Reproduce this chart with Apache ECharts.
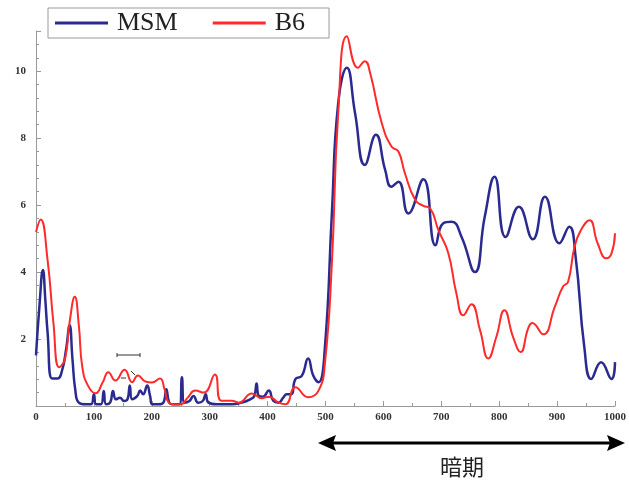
<!DOCTYPE html>
<html>
<head>
<meta charset="utf-8">
<style>html,body{margin:0;padding:0;background:#fff;}#c{width:629px;height:483px;}</style>
<script src="https://cdn.jsdelivr.net/npm/echarts@6/dist/echarts.min.js"></script>
</head>
<body>
<div id="c"></div>
<script>
const seriesNames = ['MSM', 'B6'];
const xTicks = [0, 100, 200, 300, 400, 500, 600, 700, 800, 900, 1000];
const yTicks = [2, 4, 6, 8, 10];
const msm = [[0,1.51],[6,3.0],[12,4.06],[16,3.2],[20,2.2],[28,0.82],[37,0.82],[45,1.06],[52,1.7],[58,2.41],[63,1.4],[68,0.46],[74,0.1],[85,0.05],[95,0.05],[100,0.35],[104,0.05],[112,0.05],[117,0.45],[121,0.05],[128,0.1],[133,0.45],[138,0.2],[145,0.25],[152,0.15],[158,0.2],[162,0.61],[166,0.2],[175,0.3],[180,0.46],[185,0.35],[192,0.61],[197,0.3],[201,0.05],[212,0.05],[220,0.1],[225,0.5],[230,0.1],[235,0.05],[248,0.05],[252,0.86],[256,0.1],[265,0.15],[272,0.3],[280,0.1],[288,0.15],[293,0.35],[298,0.1],[312,0.05],[338,0.05],[355,0.1],[370,0.2],[377,0.3],[381,0.67],[385,0.3],[392,0.28],[402,0.46],[410,0.15],[419,0.1],[427,0.25],[433,0.35],[441,0.35],[448,0.8],[459,0.9],[470,1.42],[479,0.9],[488,0.71],[499,1.76],[511,5.75],[522,9.05],[537,10.1],[551,8.75],[568,7.2],[587,8.1],[603,7.05],[614,6.55],[626,6.7],[643,5.75],[669,6.77],[690,4.8],[703,5.45],[718,5.5],[735,5.05],[758,4.0],[775,5.65],[792,6.85],[811,5.05],[834,5.95],[858,4.98],[879,6.25],[904,4.86],[921,5.35],[932,4.45],[947,1.76],[959,0.81],[976,1.31],[994,0.81],[1000,1.31]];
const b6 = [[0,5.2],[8,5.57],[20,4.36],[30,2.5],[40,1.16],[50,1.4],[58,2.5],[67,3.26],[74,2.4],[80,1.16],[90,0.6],[103,0.38],[115,0.7],[125,1.01],[137,0.76],[153,1.08],[166,0.71],[176,0.91],[189,0.73],[200,0.7],[214,0.82],[222,0.5],[229,0.11],[240,0.05],[250,0.05],[262,0.25],[275,0.46],[290,0.4],[309,0.94],[320,0.16],[338,0.16],[350,0.1],[373,0.37],[390,0.23],[402,0.28],[419,0.1],[431,0.05],[448,0.56],[470,0.26],[488,0.46],[499,1.27],[511,4.26],[522,8.76],[537,11.04],[556,10.1],[568,10.3],[577,9.95],[597,8.46],[614,7.75],[626,7.6],[637,6.96],[655,6.15],[669,5.98],[681,5.9],[695,5.25],[712,4.57],[726,3.37],[738,2.71],[752,3.04],[767,2.26],[781,1.42],[795,2.06],[809,2.86],[824,2.06],[837,1.61],[850,2.32],[857,2.48],[876,2.14],[896,2.96],[910,3.56],[919,3.71],[930,4.75],[941,5.25],[956,5.55],[970,4.86],[985,4.41],[994,4.56],[1000,5.16]];
const colors = ['#2b2a8f', '#ff2a2a'];
const periodLabel = '暗期';

const chart = echarts.init(document.getElementById('c'));
const labelFont = {fontFamily: 'Liberation Serif', fontWeight: 'bold', fontSize: 11, color: '#333'};
chart.setOption({
  animation: false,
  backgroundColor: '#fff',
  grid: {left: 36, right: 12, top: 31, bottom: 77},
  legend: {
    left: 48, top: 8,
    data: seriesNames,
    icon: 'rect', itemWidth: 53, itemHeight: 3, itemGap: 35,
    borderColor: '#999', borderWidth: 1,
    padding: [2, 24, 2, 7],
    textStyle: {fontFamily: 'Liberation Serif', fontSize: 26, color: '#222', padding: [0, 0, 0, 4]}
  },
  xAxis: {
    type: 'value', min: 0, max: 1000, interval: 100,
    axisLine: {lineStyle: {color: '#999', width: 1}},
    axisTick: {inside: true, length: 5, lineStyle: {color: '#999'}},
    minorTick: {show: true, splitNumber: 2, length: 3, lineStyle: {color: '#999'}},
    splitLine: {show: false},
    axisLabel: Object.assign({margin: 6, showMaxLabel: true,
      formatter: v => xTicks.indexOf(v) >= 0 ? String(v) : ''}, labelFont)
  },
  yAxis: {
    type: 'value', min: 0, max: 11.2, interval: 2,
    axisLine: {show: true, lineStyle: {color: '#999', width: 1}},
    axisTick: {show: true, inside: true, length: 5, lineStyle: {color: '#999'}},
    minorTick: {show: true, splitNumber: 5, length: 3, lineStyle: {color: '#999'}},
    splitLine: {show: false},
    axisLabel: Object.assign({margin: 10, showMinLabel: false, showMaxLabel: false,
      formatter: v => yTicks.indexOf(v) >= 0 ? String(v) : ''}, labelFont)
  },
  series: [
    {name: seriesNames[0], type: 'line', data: msm, smooth: 0.5, showSymbol: false,
     lineStyle: {color: colors[0], width: 2.5}, itemStyle: {color: colors[0]}},
    {name: seriesNames[1], type: 'line', data: b6, smooth: 0.5, showSymbol: false,
     lineStyle: {color: colors[1], width: 2}, itemStyle: {color: colors[1]}}
  ],
  graphic: [
    {type: 'line', shape: {x1: 330, y1: 443, x2: 613, y2: 443}, style: {stroke: '#000', lineWidth: 3}},
    {type: 'polygon', shape: {points: [[318, 443], [336, 435], [333, 443], [336, 451]]}, style: {fill: '#000'}},
    {type: 'polygon', shape: {points: [[625, 443], [607, 435], [610, 443], [607, 451]]}, style: {fill: '#000'}},
    {type: 'text', x: 462, y: 467, style: {text: periodLabel, font: '22px "Noto Sans CJK JP"', fill: '#222', align: 'center', verticalAlign: 'middle'}},
    {type: 'line', shape: {x1: 117, y1: 355, x2: 140, y2: 355}, style: {stroke: '#333', lineWidth: 1}},
    {type: 'line', shape: {x1: 117, y1: 353, x2: 117, y2: 357}, style: {stroke: '#333', lineWidth: 1}},
    {type: 'line', shape: {x1: 140, y1: 353, x2: 140, y2: 357}, style: {stroke: '#333', lineWidth: 1}},
    {type: 'line', shape: {x1: 121, y1: 378, x2: 126, y2: 378}, style: {stroke: '#333', lineWidth: 1}},
    {type: 'line', shape: {x1: 131, y1: 371, x2: 135, y2: 375}, style: {stroke: '#333', lineWidth: 1}}
  ]
});
</script>
</body>
</html>
